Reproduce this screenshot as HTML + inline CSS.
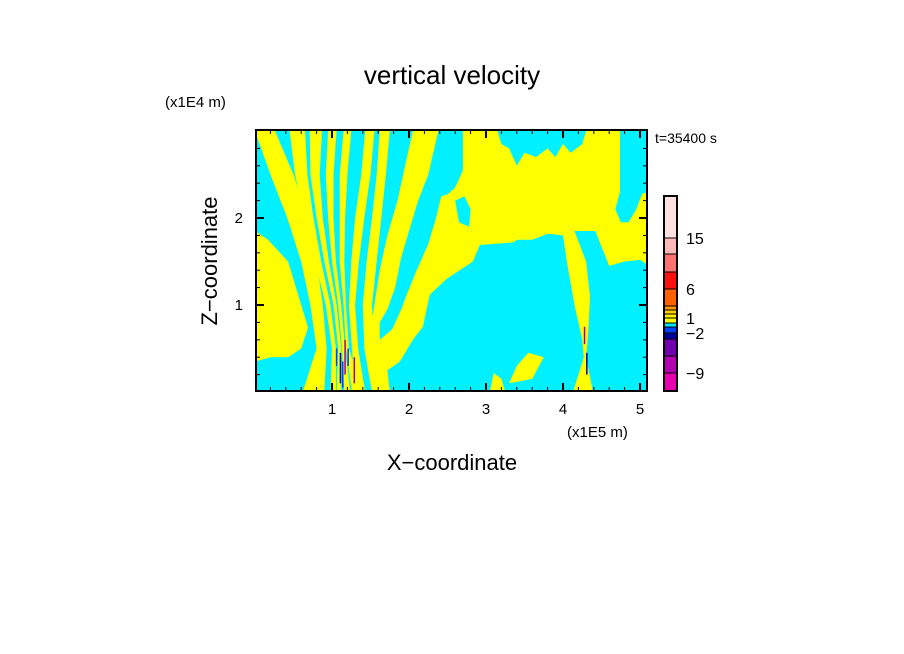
<!DOCTYPE html>
<html><head><meta charset="utf-8"><style>
html,body{margin:0;padding:0;background:#fff;}
svg{display:block;font-family:"Liberation Sans",sans-serif;}
</style></head><body>
<svg id="chart" width="904" height="654" viewBox="0 0 904 654" xmlns="http://www.w3.org/2000/svg">
<rect x="0" y="0" width="904" height="654" fill="#fff"/>
<text x="452" y="84" font-size="26" text-anchor="middle">vertical velocity</text>
<text x="165" y="107" font-size="15">(x1E4 m)</text>
<text x="655" y="143" font-size="14">t=35400 s</text>
<text x="567" y="437" font-size="15">(x1E5 m)</text>
<text x="452" y="470" font-size="22" text-anchor="middle">X−coordinate</text>
<text x="0" y="0" font-size="22" text-anchor="middle" transform="translate(217,261) rotate(-90)">Z−coordinate</text>
<defs><clipPath id="pc"><rect x="256" y="130" width="391" height="261"/></clipPath></defs>
<g id="field" clip-path="url(#pc)"></g>
<g id="axes"></g>
<g id="cbar"></g>
</svg>
<script>
const zLevels = [3.0, 2.5, 2.0, 1.5, 1.0, 0.5, 0.0];
const stripeLeft = [
  [0.0, 0.2, 0.42, 0.6, 0.72, 0.8, 0.62],
  [0.45, 0.52, 0.64, 0.78, 0.92, 1.00, 0.98],
  [0.71, 0.72, 0.80, 0.90, 1.02, 1.08, 1.06],
  [0.95, 0.92, 0.95, 1.00, 1.08, 1.13, 1.16],
  [1.15, 1.10, 1.10, 1.10, 1.15, 1.18, 1.26],
  [1.43, 1.38, 1.30, 1.25, 1.22, 1.26, 1.30],
  [1.62, 1.58, 1.52, 1.45, 1.40, 1.42, 1.52]
];
const stripeRight = [
  [0.26, 0.5, 0.68, 0.8, 0.88, 0.93, 0.90],
  [0.65, 0.68, 0.76, 0.86, 0.98, 1.05, 1.05],
  [0.87, 0.84, 0.88, 0.96, 1.06, 1.12, 1.12],
  [1.06, 1.02, 1.02, 1.05, 1.12, 1.17, 1.24],
  [1.25, 1.20, 1.17, 1.16, 1.18, 1.22, 1.40],
  [1.55, 1.50, 1.42, 1.35, 1.30, 1.34, 1.43],
  [1.75, 1.70, 1.64, 1.58, 1.52, 1.55, 1.77]
];
const yellowRegions = [
  [[0,1.85],[0.17,1.75],[0.43,1.5],[0.56,1.12],[0.69,0.74],[0.6,0.5],[0.43,0.4],[0.2,0.4],[0,0.35]],
  [[2.05,3.0],[5.12,3.0],[5.12,0],[1.55,0],[1.52,0.3],[1.5,0.7],[1.55,1.0],[1.62,1.4],[1.72,1.8],[1.85,2.2],[1.95,2.6]]
];
const cyanRegions = [
  [[2.38,3.0],[2.25,2.5],[2.12,2.2],[2.0,1.85],[1.9,1.55],[1.82,1.2],[1.72,0.95],[1.62,0.8],[1.62,0.6],[1.78,0.72],[1.9,0.95],[1.97,1.12],[2.1,1.4],[2.25,1.7],[2.35,2.0],[2.42,2.25],[2.5,2.27],[2.6,2.35],[2.7,2.55],[2.7,3.0]],
  [[2.6,2.2],[2.72,2.25],[2.8,2.1],[2.78,1.9],[2.65,1.95]],
  [[1.75,0],[1.72,0.25],[1.88,0.35],[2.05,0.6],[2.18,0.75],[2.27,1.12],[2.49,1.3],[2.83,1.5],[2.92,1.69],[3.35,1.72],[3.5,1.8],[3.8,1.82],[4.0,1.8],[4.05,1.5],[4.15,1.0],[4.25,0.6],[4.27,0.4],[4.13,0]],
  [[4.39,0],[4.3,0.4],[4.33,0.7],[4.35,1.1],[4.3,1.5],[4.15,1.85],[4.42,1.85],[4.6,1.45],[4.8,1.5],[5.0,1.52],[5.12,1.45],[5.12,0]],
  [[3.15,3.0],[4.3,3.0],[4.25,2.85],[4.1,2.75],[4.0,2.85],[3.9,2.7],[3.8,2.8],[3.65,2.7],[3.5,2.75],[3.4,2.6],[3.3,2.8],[3.2,2.85]],
  [[4.74,3.0],[5.12,3.0],[5.12,2.3],[5.03,2.28],[4.95,2.1],[4.85,1.95],[4.75,1.95],[4.68,2.1],[4.74,2.3]]
];
const yellowPatches = [
  [[3.05,0],[3.25,0],[3.2,0.15],[3.1,0.22]],
  [[3.3,0.1],[3.6,0.15],[3.75,0.4],[3.55,0.45],[3.4,0.3]],
  [[3.0,1.75],[3.6,1.75],[3.9,1.85],[3.0,1.85]]
];
const speckX = [1.1, 1.13, 1.16, 1.2, 1.28, 1.05, 4.27, 4.3];
const speckZ0 = [0.1, 0.05, 0.2, 0.3, 0.1, 0.3, 0.55, 0.2];
const speckZ1 = [0.45, 0.35, 0.6, 0.5, 0.4, 0.5, 0.75, 0.45];
const speckColor = ['#0000c0', '#0040ff', '#a000a0', '#0040ff', '#a000a0', '#0040ff', '#a000a0', '#0000c0'];
const cbValues = [-12, -9, -6, -3, -2, -1, 0, 0.5, 1, 2, 4, 6, 9, 12, 15, 25];
const cbColors = ['#e800b0', '#b000b0', '#7000b0', '#0000a0', '#0040ff', '#00e8ff', '#ffff00', '#ffee00', '#ffcc00', '#ff9900', '#ff6000', '#ff1010', '#ff7070', '#ffb8b8', '#ffe0e0'];
const cbLabels = ['−9', '−2', '1', '6', '15'];
const cbLabelIdx = [1, 4, 7, 11, 14];
const xTicks = [1, 2, 3, 4, 5];
const yTicks = [1, 2];

const NS = 'http://www.w3.org/2000/svg';
const X0 = 255, XS = 77, Y0 = 392, YS = 87;
const sx = v => X0 + v * XS;
const sy = v => Y0 - v * YS;
function mk(tag, attrs, parent) { const e = document.createElementNS(NS, tag); for (const k in attrs) e.setAttribute(k, attrs[k]); parent.appendChild(e); return e; }
const field = document.getElementById('field');
const axes = document.getElementById('axes');
const cbar = document.getElementById('cbar');
const bg = mk('rect', {x: 256, y: 130, width: 391, height: 261, fill: '#00f0ff'}, field);


function poly(pts, color, name) {
  const p = mk('polygon', {points: pts.map(q => sx(q[0]).toFixed(1) + ',' + sy(q[1]).toFixed(1)).join(' '), fill: color}, field);
  
  
}
yellowRegions.forEach(r => poly(r, '#ffff00', 'updraft-region'));
for (let i = 0; i < stripeLeft.length; i++) {
  const pts = [];
  for (let j = 0; j < zLevels.length; j++) pts.push([stripeLeft[i][j], zLevels[j]]);
  for (let j = zLevels.length - 1; j >= 0; j--) pts.push([stripeRight[i][j], zLevels[j]]);
  poly(pts, '#ffff00', 'updraft-stripe');
}
cyanRegions.forEach(r => poly(r, '#00f0ff', 'downdraft-region'));
yellowPatches.forEach(r => poly(r, '#ffff00', 'updraft-patch'));
for (let i = 0; i < speckX.length; i++) {
  const r = mk('rect', {x: sx(speckX[i]), y: sy(speckZ1[i]), width: 1.5, height: sy(speckZ0[i]) - sy(speckZ1[i]), fill: speckColor[i]}, field);
  
  
}
const fr = mk('rect', {x: 256, y: 130, width: 391, height: 261, fill: 'none', stroke: '#000', 'stroke-width': 2}, axes);


for (let v = 0.2; v < 5.12; v += 0.2) {
  const major = Math.abs(v - Math.round(v)) < 0.01;
  const L = major ? 8 : 4;
  const x = sx(v);
  const t1 = mk('line', {x1: x, y1: 391, x2: x, y2: 391 - L, stroke: '#000', 'stroke-width': major ? 2 : 1}, axes);
  
  
  const t2 = mk('line', {x1: x, y1: 130, x2: x, y2: 130 + L, stroke: '#000', 'stroke-width': major ? 2 : 1}, axes);
  
  
}
for (let v = 0.2; v < 3.0; v += 0.2) {
  const major = Math.abs(v - Math.round(v)) < 0.01;
  const L = major ? 8 : 4;
  const y = sy(v);
  const t1 = mk('line', {x1: 256, y1: y, x2: 256 + L, y2: y, stroke: '#000', 'stroke-width': major ? 2 : 1}, axes);
  
  
  const t2 = mk('line', {x1: 647, y1: y, x2: 647 - L, y2: y, stroke: '#000', 'stroke-width': major ? 2 : 1}, axes);
  
  
}
xTicks.forEach(v => {
  const t = mk('text', {x: sx(v), y: 414, 'font-size': 15, 'text-anchor': 'middle'}, axes);
  t.textContent = v;
  
  
});
yTicks.forEach(v => {
  const t = mk('text', {x: 243, y: sy(v) + 5, 'font-size': 15, 'text-anchor': 'end'}, axes);
  t.textContent = v;
  
  
});
const cbPos = [391, 373, 356, 339, 333, 327, 323, 318, 314, 310, 306, 289, 272, 254, 238, 196];
const cbScale = v => {
  for (let i = 0; i < cbValues.length - 1; i++) {
    if (v <= cbValues[i + 1]) { const f = (v - cbValues[i]) / (cbValues[i + 1] - cbValues[i]); return cbPos[i] + f * (cbPos[i + 1] - cbPos[i]); }
  }
  return cbPos[cbPos.length - 1];
};
for (let i = 0; i < cbColors.length; i++) {
  const y1 = cbScale(cbValues[i]), y2 = cbScale(cbValues[i + 1]);
  const r = mk('rect', {x: 664, y: y2, width: 13, height: y1 - y2, fill: cbColors[i], stroke: '#000', 'stroke-width': 1}, cbar);
  
  
}
const cbf = mk('rect', {x: 664, y: 196, width: 13, height: 195, fill: 'none', stroke: '#000', 'stroke-width': 2}, cbar);


cbLabels.forEach((s, k) => {
  const y = cbScale(cbValues[cbLabelIdx[k]]);
  const t = mk('text', {x: 686, y: y + 6, 'font-size': 16}, cbar);
  t.textContent = s;
  
  
});
</script>
</body></html>
